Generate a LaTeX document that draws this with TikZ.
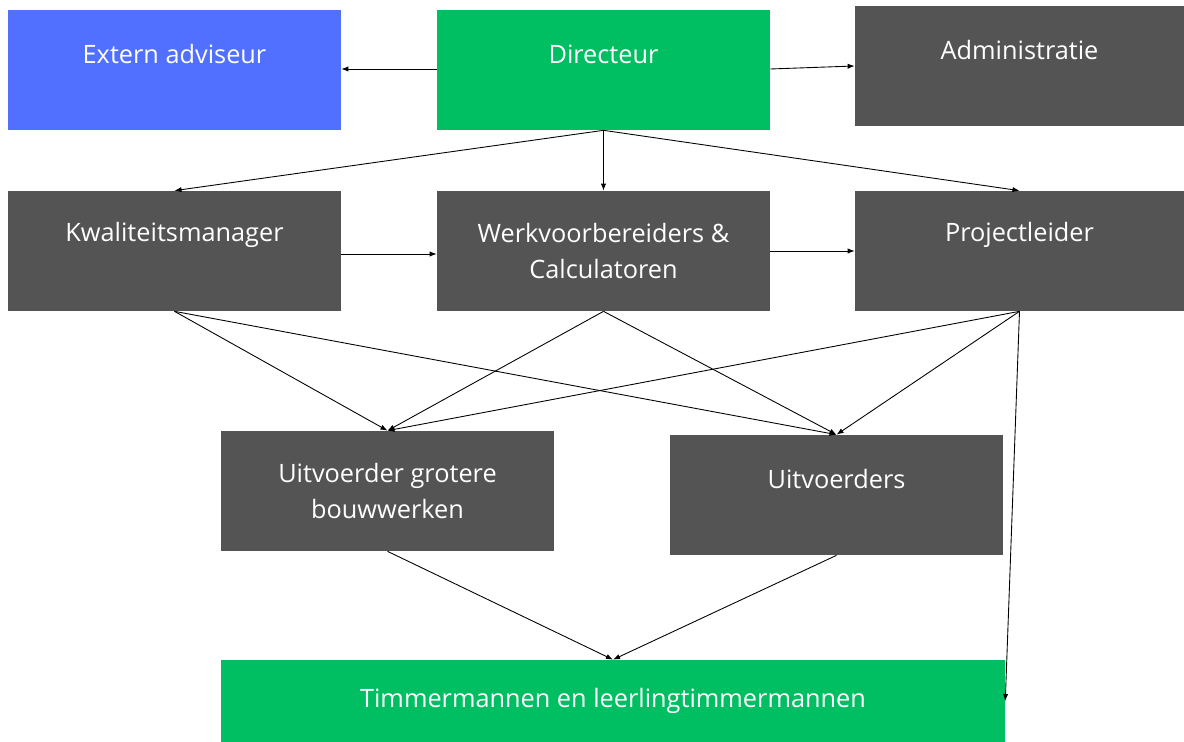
\documentclass[tikz,border=0pt]{standalone}
\usepackage{fontspec}
\setmainfont{Open Sans}
\usetikzlibrary{arrows.meta}
\definecolor{advblue}{HTML}{5170FF}
\definecolor{dirgreen}{HTML}{00BF63}
\definecolor{boxgrey}{HTML}{545454}
\tikzset{
    box/.style={rectangle, minimum width=6.66cm, minimum height=2.4cm, inner sep=0pt,
        text=white, align=center, font=\fontsize{14.4}{20}\selectfont},
    grey/.style={box, fill=boxgrey},
    txt/.style={text=white, font=\fontsize{14.4}{20}\selectfont, yshift=9pt},
    arr/.style={-{Latex[length=4pt,width=3pt]}, line width=0.5pt}
}
\begin{document}
\begin{tikzpicture}[x=0.02cm,y=-0.02cm]
    \useasboundingbox (0,0) rectangle (1184,742);
    % top row
    \node[box, fill=advblue, label={[txt]center:Extern adviseur}] (ext) at (174.5,70) {};
    \node[box, fill=dirgreen, label={[txt]center:Directeur}] (dir) at (603.5,70) {};
    \node[grey, minimum width=6.58cm, label={[txt]center:Administratie}] (adm) at (1019.5,66) {};
    % middle row
    \node[grey, label={[txt]center:Kwaliteitsmanager}] (kwal) at (174.5,251) {};
    \node[grey] (werk) at (603.5,251) {Werkvoorbereiders \&\\Calculatoren};
    \node[grey, minimum width=6.58cm, label={[txt]center:Projectleider}] (proj) at (1019.5,251) {};
    % uitvoerders
    \node[grey] (ugb) at (387.5,491) {Uitvoerder grotere\\bouwwerken};
    \node[grey, label={[txt]center:Uitvoerders}] (uitv) at (836.5,495) {};
    \node[box, fill=dirgreen, minimum width=15.68cm, minimum height=1.64cm] (timm) at (613,701) {Timmermannen en leerlingtimmermannen};

    \draw[arr] (dir.west |- 0,69) -- (ext.east |- 0,69);
    \draw[arr] (dir.east |- 0,69) -- (adm.west);
    \draw[arr] (dir.south) -- (kwal.north);
    \draw[arr] (dir.south) -- (werk.north);
    \draw[arr] (dir.south) -- (proj.north);
    \draw[arr] (kwal.east |- 0,254) -- (werk.west |- 0,254);
    \draw[arr] (werk.east) -- (proj.west |- werk.east);
    \draw[arr] (kwal.south) -- (ugb.north);
    \draw[arr] (kwal.south) -- (uitv.north);
    \draw[arr] (werk.south) -- (ugb.north);
    \draw[arr] (werk.south) -- (uitv.north);
    \draw[arr] (proj.south) -- (ugb.north);
    \draw[arr] (proj.south) -- (uitv.north);
    \draw[arr] (proj.south) -- (timm.east);
    \draw[arr] (ugb.south) -- (timm.north);
    \draw[arr] (uitv.south) -- (timm.north);
\end{tikzpicture}
\end{document}
